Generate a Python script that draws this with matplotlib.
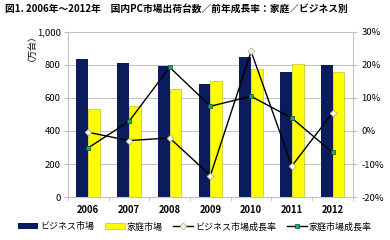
import matplotlib
matplotlib.use('Agg')
import matplotlib.pyplot as plt
import numpy as np

plt.rcParams['font.family'] = ['Noto Sans CJK JP', 'DejaVu Sans']

# データ
years = ['2006', '2007', '2008', '2009', '2010', '2011', '2012']
business = [835, 811, 795, 685, 851, 759, 801]
home = [534, 552, 655, 705, 775, 805, 755]
business_growth = [-0.4, -2.9, -2.1, -13.5, 24.1, -10.6, 5.5]
home_growth = [-5.1, 2.9, 19.3, 7.5, 10.5, 3.9, -6.5]

navy = '#0b1c5c'
yellow = '#ffff00'
grid_c = '#c0c0c0'

fig = plt.figure(figsize=(3.9, 2.4), dpi=100)
ax = fig.add_axes([0.174, 0.179, 0.731, 0.688])
ax2 = ax.twinx()

x = np.arange(len(years))
w = 0.29
ax.bar(x - w / 2, business, w, color=navy, zorder=2, label='ビジネス市場')
ax.bar(x + w / 2, home, w, color=yellow, edgecolor='#b0b020', linewidth=0.4, zorder=2, label='家庭市場')

ax.set_ylim(0, 1000)
ax.set_yticks(range(0, 1001, 200))
ax.set_yticklabels(['0', '200', '400', '600', '800', '1,000'])
ax.set_xlim(-0.5, len(years) - 0.5)
ax.set_xticks(x)
ax.set_xticklabels(years, fontweight='bold')
ax.set_xticks(np.arange(-0.5, len(years), 1), minor=True)
ax.tick_params(axis='x', which='major', length=0, labelsize=6.8, pad=6)
ax.tick_params(axis='x', which='minor', length=3, color=grid_c)
ax.tick_params(axis='y', labelsize=6.8, length=3, color=grid_c, pad=2)
ax.yaxis.grid(True, color=grid_c, linewidth=0.7, zorder=0)
ax.set_axisbelow(True)
for s in ['top', 'right']:
    ax.spines[s].set_visible(False)
ax.spines['left'].set_color(grid_c)
ax.spines['bottom'].set_color(grid_c)

l1, = ax2.plot(x, business_growth, color='black', linewidth=1.0, marker='D', markersize=3.5,
               markerfacecolor='#fffbe0', markeredgecolor='#a0a090', markeredgewidth=0.5,
               label='ビジネス市場成長率', zorder=3)
l2, = ax2.plot(x, home_growth, color='black', linewidth=1.0, marker='s', markersize=3.5,
               markerfacecolor='#1fae6a', markeredgecolor='#0a5030', markeredgewidth=0.5,
               label='家庭市場成長率', zorder=3)
ax2.set_ylim(-20, 30)
ax2.set_yticks(range(-20, 31, 10))
ax2.set_yticklabels([f'{v}%' for v in range(-20, 31, 10)])
ax2.tick_params(axis='y', labelsize=6.8, length=3, color=grid_c, pad=3)
for s in ['top', 'left', 'bottom']:
    ax2.spines[s].set_visible(False)
ax2.spines['right'].set_color(grid_c)

fig.text(0.013, 0.963, '図1. 2006年～2012年　国内PC市場出荷台数／前年成長率：家庭／ビジネス別',
         fontsize=7, fontweight='bold', ha='left', va='center')
fig.text(0.07, 0.82, '（万台）', rotation=90, fontsize=6.5, ha='center', va='center')

h1, lb1 = ax.get_legend_handles_labels()
fig.legend(h1 + [l1, l2], lb1 + [l1.get_label(), l2.get_label()],
           loc='center', bbox_to_anchor=(0.5, 0.055), ncol=4, frameon=False,
           fontsize=6.5, handlelength=2.2, handleheight=0.6, columnspacing=1.2, handletextpad=0.2)

fig.savefig('out.png', dpi=100)
